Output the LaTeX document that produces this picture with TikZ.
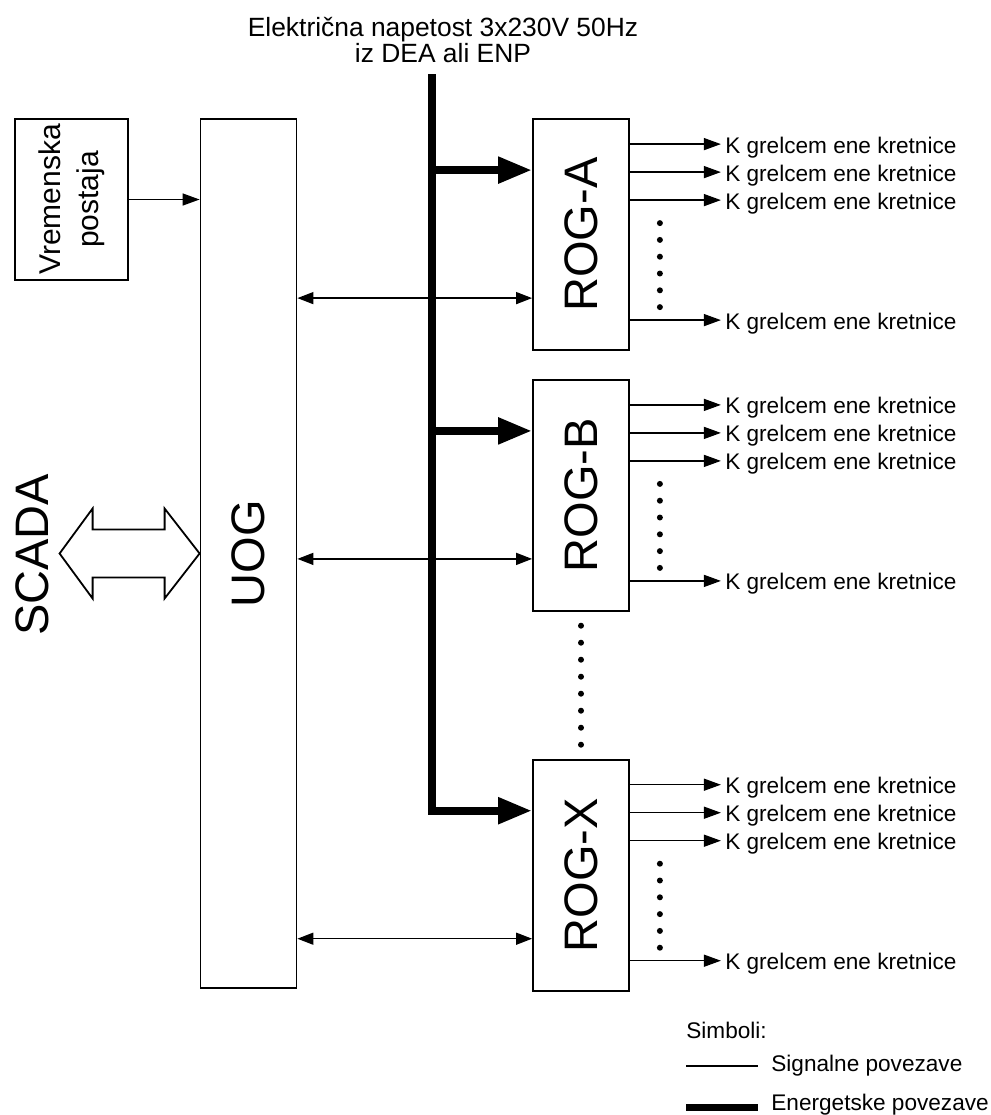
\documentclass[tikz,border=0pt]{standalone}
\usepackage{fontspec}
\setmainfont{Liberation Sans}
\usetikzlibrary{arrows.meta, positioning, calc}

\tikzset{
  box/.style={rectangle, draw=black, line width=0.9pt, fill=white,
              minimum width=48pt, inner sep=0pt},
  sig/.style={line width=0.7pt, -{Triangle[length=8.5pt, width=6pt]}},
  sigboth/.style={line width=0.7pt,
                  {Triangle[length=8pt, width=6pt]}-{Triangle[length=8pt, width=6pt]}},
  power/.style={line width=4pt, -{Triangle[length=17pt, width=12.5pt]}},
  big/.style={font=\fontsize{23.5}{26}\selectfont},
  small/.style={font=\fontsize{11.3}{13}\selectfont},
}

\begin{document}
\begin{tikzpicture}[x=0.5pt, y=-0.5pt]
\useasboundingbox (0,0) rectangle (991,1115);

% --- napajanje ---
\node[anchor=north, align=center, inner sep=0pt,
      font=\fontsize{13.2}{13}\selectfont] (title) at (443,17)
  {Električna napetost 3x230V 50Hz\\iz DEA ali ENP};
\coordinate (feed) at (432,74);

% --- bloki ---
\node[box, minimum width=56.5pt, minimum height=80.5pt,
      font=\fontsize{15}{19}\selectfont] (vrem) at (71.5,199.5)
  {\rotatebox{90}{\begin{tabular}{@{}c@{}}Vremenska\\postaja\end{tabular}}};
\node[box, big, minimum height=434.5pt] (uog) at (248.5,553.5)
  {\rotatebox{90}{UOG}};
\node[box, big, minimum height=115.5pt] (roga) at (581,234.5)
  {\rotatebox{90}{ROG-A}};
\node[box, big, minimum height=115.5pt, below=14pt of roga] (rogb)
  {\rotatebox{90}{ROG-B}};
\node[box, big, minimum height=115.5pt, below=73.5pt of rogb] (rogx)
  {\rotatebox{90}{ROG-X}};

% --- SCADA ---
\node[big, rotate=90, inner sep=0pt] (scada) at (32,555) {SCADA};
\draw[line width=0.9pt, fill=white] (uog.west) -- ++(-35,-45) -- ++(0,21)
  -- ++(-72,0) -- ++(0,-21) -- ++(-33,45) -- ++(33,45) -- ++(0,-21)
  -- ++(72,0) -- ++(0,21) -- cycle;

\draw[sig] (vrem.east) -- (vrem.east -| uog.west);

% --- povezave do ROG ---
\foreach \r in {roga,rogb,rogx}{
  \coordinate (\r-s) at ($(\r.north west)+(0,180)$);
  \coordinate (\r-p) at ($(\r.north west)+(0,52)$);
  \draw[sigboth] (uog.east |- \r-s) -- (\r-s);
  % izhodi
  \foreach \o [count=\i] in {26,54,82,202}{
    \coordinate (\r-e\i) at ($(\r.north east)+(91,\o)$);
    \node[small, anchor=base west, inner sep=2pt] (\r-t\i)
      at ($(\r-e\i)+(0,9)$) {K grelcem ene kretnice};
    \draw[sig] (\r-e\i -| \r.east) -- (\r-e\i);
  }
  \foreach \d in {0,...,5}
    \fill ($(\r.north east)+(30,105+16.8*\d)$) circle (1.5pt);
}

\draw[power] (feed) |- (rogx-p);
\draw[power] (feed |- roga-p) -- (roga-p);
\draw[power] (feed |- rogb-p) -- (rogb-p);

\foreach \d in {0,...,7}
  \fill ($(rogb.south)+(0,14+17*\d)$) circle (1.5pt);

% --- legenda ---
\node[small, anchor=base west, inner sep=0pt] (simb) at (686,1038) {Simboli:};
\coordinate (l1a) at (686,1066);
\coordinate (l1b) at (758,1066);
\coordinate (l2a) at (686,1107);
\coordinate (l2b) at (758,1107);
\draw[line width=0.7pt] (l1a) -- (l1b);
\draw[line width=3.5pt] (l2a) -- (l2b);
\node[small, anchor=base west, inner sep=0pt] (sigt) at (771,1071) {Signalne povezave};
\node[small, anchor=base west, inner sep=0pt] (ent) at (771,1110) {Energetske povezave};

\end{tikzpicture}
\end{document}
